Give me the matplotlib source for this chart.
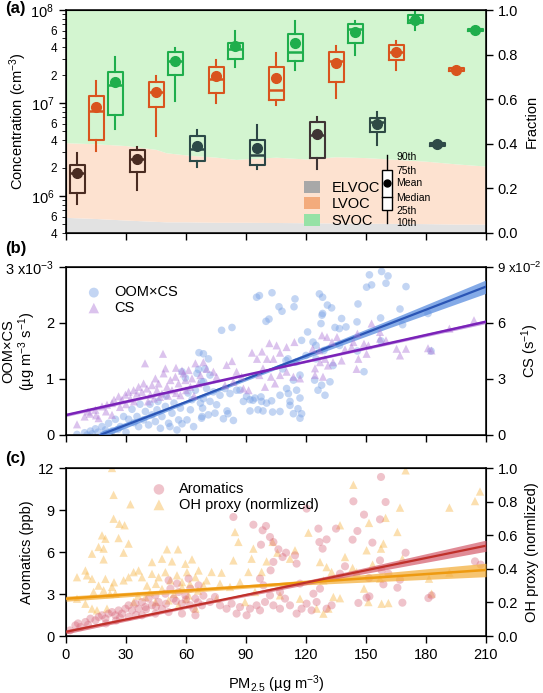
import numpy as np
import matplotlib
matplotlib.use("Agg")
import matplotlib.pyplot as plt
from matplotlib.patches import Patch, Rectangle
from matplotlib.ticker import FixedLocator, FuncFormatter

plt.rcParams['font.family'] = ['Liberation Sans', 'DejaVu Sans']
plt.rcParams['font.size'] = 10.5
plt.rcParams['mathtext.default'] = 'regular'

# ---------------- (a) box plots: concentration per PM2.5 bin ----------------
groups_pm = [15, 45, 75, 105, 135, 165, 195]

elvoc_p10 = [8.2e5, 1.15e6, 2.07e6, 1.95e6, 1.95e6, 3.52e6, 3.30e6]
elvoc_p25 = [1.08e6, 1.80e6, 2.39e6, 2.14e6, 2.54e6, 4.87e6, 3.45e6]
elvoc_med = [1.75e6, 2.52e6, 3.22e6, 2.74e6, 4.56e6, 6.30e6, 3.60e6]
elvoc_p75 = [2.18e6, 3.12e6, 4.39e6, 4.04e6, 6.30e6, 6.86e6, 3.75e6]
elvoc_p90 = [2.90e6, 3.38e6, 5.08e6, 5.80e6, 7.10e6, 8.07e6, 3.90e6]
elvoc_mean = [1.75e6, 2.50e6, 3.49e6, 3.30e6, 4.60e6, 5.92e6, 3.58e6]

lvoc_p10 = [3.05e6, 4.46e6, 1.01e7, 9.5e6, 1.14e7, 2.26e7, 2.15e7]
lvoc_p25 = [4.04e6, 9.1e6, 1.28e7, 1.07e7, 1.67e7, 2.88e7, 2.20e7]
lvoc_med = [8.3e6, 1.31e7, 1.79e7, 1.39e7, 2.84e7, 3.57e7, 2.28e7]
lvoc_p75 = [1.18e7, 1.70e7, 2.42e7, 2.45e7, 3.57e7, 4.19e7, 2.36e7]
lvoc_p90 = [1.74e7, 1.94e7, 2.88e7, 3.48e7, 4.09e7, 4.62e7, 2.42e7]
lvoc_mean = [9.1e6, 1.31e7, 1.94e7, 1.86e7, 2.68e7, 3.57e7, 2.28e7]

svoc_p10 = [5.2e6, 1.05e7, 2.42e7, 2.26e7, 3.26e7, 6.14e7, 5.80e7]
svoc_p25 = [7.4e6, 2.02e7, 2.96e7, 2.80e7, 4.44e7, 7.23e7, 5.95e7]
svoc_med = [1.57e7, 2.84e7, 3.78e7, 3.53e7, 6.25e7, 7.84e7, 6.14e7]
svoc_p75 = [2.14e7, 3.53e7, 4.44e7, 5.53e7, 7.06e7, 8.85e7, 6.30e7]
svoc_p90 = [3.15e7, 3.94e7, 6.00e7, 7.70e7, 7.70e7, 9.40e7, 6.50e7]
svoc_mean = [1.67e7, 2.84e7, 4.09e7, 4.44e7, 5.80e7, 7.84e7, 6.14e7]

# fraction of each class (stacked background)
frac_pm = [0, 15, 30, 45, 50, 60, 75, 85, 90, 105, 120, 135, 150, 165, 180, 195, 210]
elvoc_frac = [0.070, 0.065, 0.058, 0.052, 0.050, 0.050, 0.048, 0.048, 0.048, 0.047,
              0.046, 0.045, 0.044, 0.043, 0.042, 0.040, 0.040]
elvoc_lvoc_frac = [0.405, 0.400, 0.392, 0.375, 0.360, 0.350, 0.340, 0.330, 0.333, 0.340,
                   0.332, 0.342, 0.338, 0.330, 0.322, 0.310, 0.300]

# ---------------- (b) OOM x CS and CS vs PM2.5 ----------------
oomcs_pts = [
    (5.5, 0.01), (9.3, 0.04), (12.2, 0.07), (14.7, 0.11), (18, 0.15), (19.7, 0.09), (23, 0.07),
    (24.7, 0.28), (21.3, 0.21), (27.2, 0.15), (28.8, 0.33), (31.3, 0.28), (33, 0.46), (35.5, 0.33),
    (36.3, 0.15), (38.8, 0.27), (39.7, 0.42), (41.3, 0.18), (43, 0.36), (44.7, 0.24), (45.5, 0.45),
    (47.2, 0.12), (48, 0.33), (49.7, 0.51), (51.3, 0.21), (53, 0.39), (54, 0.57), (55.5, 0.09),
    (56.3, 0.27), (57.2, 0.48), (58, 1.13), (59.7, 1.02), (60.5, 0.27), (62.2, 0.45), (63, 0.63),
    (63.8, 0.15), (64.7, 0.8), (65.5, 1.1), (66.3, 1.17), (67.2, 0.57), (68, 0.33), (68.8, 0.95),
    (66.5, 1.47), (10.5, 0.0), (13, 0.02), (16, 0.05), (20, 0.03), (26, 0.1), (30, 0.05),
    (34, 0.22), (42, 0.55), (46, 0.6), (50, 0.7), (52, 0.15), (58, 0.2), (61, 0.75), (37, 0.55),
    (68.7, 1.45), (71.2, 1.36), (69.5, 1.18), (72, 1.07), (67.8, 0.95), (70.3, 0.83), (73.7, 0.77),
    (68.7, 0.65), (72, 0.6), (75.3, 0.54), (68.3, 0.48), (71.2, 0.36), (77, 0.71), (79.5, 0.83),
    (82, 0.74), (85.3, 0.8), (67.8, 0.3), (74.5, 0.39), (88.7, 0.6), (92, 0.63), (94.5, 0.66),
    (97.8, 0.6), (100.3, 0.57), (102.8, 0.61), (96, 0.45), (98.5, 0.43), (103.3, 0.41), (107, 0.42),
    (111.2, 0.74), (115.3, 0.8), (112, 0.6), (117, 0.66), (117, 0.3), (83.7, 0.26), (78.7, 0.29),
    (81, 0.38), (90.3, 0.69), (87, 0.8), (80.5, 0.43), (92, 0.43), (77.8, 1.87), (83, 1.92),
    (96.7, 2.49), (95.3, 2.46), (103, 2.54), (106.5, 2.29), (108, 2.21), (114.5, 2.43), (114, 2.29),
    (100, 2.03), (101.5, 2.07), (126.7, 2.52), (128.3, 2.46), (130.7, 2.32), (132.8, 2.27),
    (128.3, 2.17), (128, 2.14), (127.5, 1.99), (134.5, 1.92), (136.7, 1.9), (120.8, 1.84),
    (117.8, 1.69), (123.5, 1.66), (125, 1.6), (111, 1.36), (115, 1.3), (117, 1.07), (113.7, 0.98),
    (110.3, 0.83), (107, 0.71), (112, 0.53), (116, 0.47), (113.7, 0.38), (117.8, 0.38), (93.5, 0.62),
    (97.5, 0.68), (127.8, 0.89), (126, 0.8), (129.5, 0.71), (132, 0.95), (110, 1.33), (108.3, 1.18),
    (125, 1.36), (120, 1.42), (129, 1.51), (133.5, 1.24), (136.8, 1.6), (124.3, 0.98),
    (151.7, 2.86), (157.8, 2.92), (161, 2.84), (150.3, 2.64), (152.8, 2.68), (160, 2.71), (170, 2.65),
    (146, 2.34), (137.8, 2.08), (140, 1.93), (145.5, 2.02), (157.3, 2.09), (167, 2.25), (168.3, 1.97),
    (181, 2.17), (145.7, 1.5), (149, 1.13), (182.5, 1.5), (157.5, 1.68),
]  # OOM x CS in 1e-3 ug m-3 s-1

cs_pts = [
    (5.5, 0.57), (9.3, 0.99), (11, 1.26), (14.7, 1.35), (18, 1.53), (20.5, 1.62), (23, 1.71),
    (24, 1.89), (26.3, 2.07), (28, 1.89), (29.7, 2.16), (31.3, 2.31), (32.2, 1.95), (33.8, 2.4),
    (35.5, 2.22), (36.3, 2.58), (38, 2.31), (38.8, 2.76), (40.5, 2.49), (42.2, 2.16), (43, 2.67),
    (44.7, 3.03), (45.5, 2.4), (46.3, 2.76), (48, 2.22), (48.8, 3.3), (49.7, 3.57), (50.5, 2.58),
    (52.2, 2.94), (53, 2.4), (54.7, 3.12), (56.3, 2.76), (57.2, 2.13), (58.8, 3.3), (59.7, 2.94),
    (61.3, 3.48), (62.2, 2.58), (63, 3.03), (64.7, 3.84), (66.3, 2.76), (67.2, 3.21), (23, 1.08),
    (16.3, 0.9), (48.5, 4.35), (39.5, 3.84), (55, 3.6), (58, 3.45), (12, 1.14), (15, 1.05),
    (20, 1.26), (27, 1.5), (30, 1.65), (34, 1.8), (41, 1.8), (44, 1.95), (47, 2.04), (51, 2.1),
    (55, 2.25), (60, 2.4), (64, 2.1),
    (68.7, 3.9), (70.3, 3.54), (73.7, 3.39), (75.3, 3.12), (80.3, 3.75), (83, 3.96), (85.3, 3.39),
    (87.8, 3.12), (83.7, 2.85), (79.5, 2.67), (88.7, 2.49), (91.3, 2.4), (93, 4.41), (95.5, 4.08),
    (98, 4.47), (100.5, 4.08), (101.7, 4.92), (105.3, 4.8), (107, 4.41), (110.3, 4.71), (114.2, 4.98),
    (103.7, 4.08), (98.5, 3.57), (96.7, 3.21), (102.5, 3.12), (107, 3.21), (110.3, 3.39),
    (113.7, 3.12), (117, 3.03), (104.5, 2.76), (99.5, 2.58), (124.5, 3.57), (127, 3.9), (129.5, 4.08),
    (128, 5.34), (130.5, 5.25), (133, 4.98), (135.5, 5.25), (123.3, 4.62), (126.7, 4.53),
    (131, 3.72), (133.5, 3.9), (124.5, 3.21), (128.5, 3.12),
    (137.8, 3.99), (139.5, 4.59), (143.7, 4.98), (142.8, 4.71), (145.7, 5.43), (146.2, 4.08),
    (145.3, 3.54), (149, 4.89), (151.2, 4.8), (150.3, 4.35), (152.8, 5.97), (157, 5.52), (157, 5.16),
    (160, 5.07), (165.3, 4.62), (167, 4.26), (170, 4.62), (181, 4.65), (182.7, 4.53), (191.7, 5.7),
    (204, 6.15),
]  # CS in 1e-2 s-1

oomcs_fit_pm = [17, 60, 110, 160, 210]
oomcs_fit = [0.0, 0.59, 1.277, 1.963, 2.65]
oomcs_band = [0.06, 0.03, 0.035, 0.07, 0.12]
cs_fit_pm = [0, 105, 210]
cs_fit = [1.07, 3.57, 6.07]
cs_band = [0.08, 0.04, 0.10]

# ---------------- (c) aromatics and OH proxy vs PM2.5 ----------------
arom_pts = [
    (4.7, 0.76), (7.2, 0.64), (9.7, 1.0), (12.2, 1.24), (14.7, 1.12), (16.3, 1.36), (18, 1.48),
    (19.7, 1.24), (21.3, 1.6), (23, 1.71), (24.7, 1.48), (26.3, 1.83), (28, 1.6), (29.7, 1.95),
    (31.3, 2.19), (33, 1.83), (34.7, 2.31), (36.3, 1.95), (38, 2.43), (39.7, 2.07), (41.3, 2.67),
    (43, 2.19), (44.7, 2.9), (46.3, 2.43), (48, 1.95), (49.7, 3.02), (51.3, 3.98), (52.2, 3.38),
    (53.8, 2.67), (55.5, 3.74), (56.3, 3.14), (58, 2.31), (59.7, 2.9), (61.3, 4.1), (62.2, 3.38),
    (63.8, 1.95), (64.7, 2.67), (66.3, 3.62), (68, 2.19), (31.3, 1.36), (38, 1.48), (44.7, 1.6),
    (51.3, 1.71), (58, 1.6), (64.7, 1.48), (2, 0.4), (6, 0.9), (11, 0.8), (20, 0.9), (25, 1.1),
    (27, 1.3), (35, 1.5), (40, 1.9), (45, 2.1), (50, 2.3), (55, 2.5), (60, 2.6), (62, 2.2), (66, 2.4),
    (83.7, 8.5), (93.7, 7.95), (98.3, 7.55), (100, 7.86), (102, 7.07), (97.5, 6.52), (103.7, 6.71),
    (106.2, 6.19), (110, 5.95), (108.3, 5.64), (114.5, 5.76), (115.3, 5.17), (103.7, 5.29),
    (102.3, 4.69), (97, 4.1), (98.7, 3.62), (107, 3.14), (120.3, 9.1), (126.2, 7.67), (130.3, 6.9),
    (126.7, 6.71), (128.3, 6.24), (135, 7.67), (117, 3.74), (123.7, 3.02), (127, 3.38), (68.7, 2.88),
    (72, 2.43), (74.5, 2.79), (77, 2.19), (80.3, 1.95), (82.8, 2.31), (85.3, 1.6), (87, 2.07),
    (90.3, 1.48), (92, 1.95), (95.3, 2.19), (97, 1.83), (99.5, 2.43), (102, 2.9), (103.7, 2.19),
    (107, 1.95), (109.5, 2.67), (112, 2.19), (115.3, 1.6), (117.8, 1.95), (120.3, 2.31),
    (122.8, 1.83), (125.3, 2.43), (130.3, 1.95), (132.8, 2.19),
    (157.5, 11.36), (143.7, 9.62), (159.8, 9.57), (149, 8.67), (157, 8.33), (145.7, 7.5),
    (143.3, 6.88), (153.2, 6.67), (169.8, 5.95), (139.5, 4.98), (157, 5.4), (157.8, 4.69),
    (161.2, 4.45), (151.5, 4.14), (167, 4.02), (158.7, 3.69), (165.7, 3.45), (150.3, 2.74),
    (151.7, 2.83), (146.2, 2.36), (168.2, 2.38), (181.2, 2.71), (182.8, 2.9), (204.5, 5.33),
    (207.3, 5.1), (137, 4.45),
]  # ppb

oh_pts = [
    (23, 1.0), (23.8, 0.84), (32.2, 0.784), (23.8, 0.698), (26.7, 0.668), (29.3, 0.659), (18, 0.599),
    (19.7, 0.579), (26.3, 0.583), (31.3, 0.55), (16.3, 0.53), (18.8, 0.52), (13, 0.49), (18.8, 0.456),
    (28.8, 0.496), (50.5, 0.516), (56, 0.516), (48, 0.46), (53, 0.444), (43, 0.44), (63, 0.456),
    (59.7, 0.43), (5.5, 0.35), (9.7, 0.39), (10.5, 0.361), (13, 0.34), (19.7, 0.34), (16.3, 0.3),
    (13.8, 0.262), (18.8, 0.272), (23, 0.292), (24.7, 0.252), (28.8, 0.331), (31.3, 0.35),
    (33.8, 0.38), (36.3, 0.39), (38, 0.35), (40.5, 0.3), (43, 0.37), (46.3, 0.35), (49.7, 0.38),
    (52.2, 0.331), (55.5, 0.361), (58, 0.321), (60.5, 0.38), (64.7, 0.35), (66.3, 0.39),
    (5.5, 0.222), (9.7, 0.192), (13, 0.163), (15.5, 0.153), (20.5, 0.163), (33.8, 0.202),
    (39.7, 0.232), (44.7, 0.202), (51.3, 0.212), (56.3, 0.183), (61.3, 0.242), (64.7, 0.163),
    (42, 0.26), (48, 0.28), (54, 0.25), (58, 0.29), (62, 0.31), (66, 0.27), (36, 0.24), (45, 0.31),
    (60, 0.22), (24, 0.32), (22, 0.25),
    (84.5, 0.619), (86.2, 0.56), (93.7, 0.52), (103.3, 0.56), (105.7, 0.496), (92.8, 0.46),
    (83.7, 0.45), (77.8, 0.377), (72.8, 0.381), (91.2, 0.381), (97.8, 0.381), (100.3, 0.444),
    (114.5, 0.51), (112, 0.46), (121.2, 0.615), (127, 0.44), (130.3, 0.41), (132.8, 0.381),
    (128.7, 0.331), (133.7, 0.232), (131.2, 0.163), (125.3, 0.163), (128.7, 0.133), (117, 0.222),
    (68.7, 0.302), (70.3, 0.331), (77, 0.312), (82, 0.292), (87, 0.321), (94.5, 0.262), (107, 0.242),
    (89.5, 0.202), (75.3, 0.222), (137, 0.659),
    (169.8, 0.986), (143.7, 0.9), (207, 0.86), (204.5, 0.803), (167, 0.764), (191.7, 0.764),
    (151.5, 0.673), (159.8, 0.703), (165.7, 0.619), (158.7, 0.55), (150.3, 0.51), (157.5, 0.52),
    (139.5, 0.47), (168.2, 0.46), (143.3, 0.405), (153.3, 0.425), (181.5, 0.341), (191.7, 0.377),
    (149, 0.282), (151.2, 0.202), (157.8, 0.192), (161.2, 0.196), (182.8, 0.252), (137, 0.225),
    (145.3, 0.38), (157, 0.341),
]  # normalized

arom_fit_pm = [0, 70, 140, 210]
arom_fit = [0.3, 2.35, 4.4, 6.45]
arom_band = [0.15, 0.08, 0.18, 0.4]
oh_fit_pm = [0, 105, 210]
oh_fit = [0.222, 0.307, 0.393]
oh_band = [0.015, 0.01, 0.04]

x_ticks = [0, 30, 60, 90, 120, 150, 180, 210]

# colours
elvoc_cols = ["#4a2c22", "#4a2c22", "#2c4a48", "#2c4545", "#3f3535", "#2f4a45", "#2f4a48"]
lvoc_col = "#d9541e"
svoc_col = "#1fae4c"


def style_axis(ax, right=None):
    ax.tick_params(direction='out', length=5, width=1, labelsize=10.5)
    ax.tick_params(axis='x', top=False)
    for s in ax.spines.values():
        s.set_linewidth(1.1)
    if right is not None:
        right.tick_params(direction='out', length=5, width=1, labelsize=10.5)


fig = plt.figure(figsize=(5.43, 6.93), dpi=100)
L, W = 66 / 543, 420 / 543
ax_a = fig.add_axes([L, 1 - 233 / 693, W, 223 / 693])
ax_b = fig.add_axes([L, 1 - 435 / 693, W, 168 / 693])
ax_c = fig.add_axes([L, 1 - 636 / 693, W, 168 / 693])

# ---------- panel (a) ----------
ax_a2 = ax_a.twinx()
ax_a2.fill_between(frac_pm, 0, elvoc_frac, color="#e2e2e2", lw=0)
ax_a2.fill_between(frac_pm, elvoc_frac, elvoc_lvoc_frac, color="#fde2d0", lw=0)
ax_a2.fill_between(frac_pm, elvoc_lvoc_frac, 1, color="#d3f5d0", lw=0)
ax_a2.set_ylim(0, 1)
ax_a2.set_yticks([0, 0.2, 0.4, 0.6, 0.8, 1.0])
ax_a2.yaxis.set_major_formatter(FuncFormatter(lambda v, p: f"{v:.1f}"))
ax_a2.set_ylabel("Fraction")
ax_a2.yaxis.set_label_coords(1.093, 0.5)
ax_a.set_zorder(ax_a2.get_zorder() + 1)
ax_a.patch.set_visible(False)


def draw_boxes(ax, offset, p10, p25, med, p75, p90, mean, colors):
    for i, pm in enumerate(groups_pm):
        st = [dict(med=med[i], q1=p25[i], q3=p75[i], whislo=p10[i], whishi=p90[i],
                   mean=mean[i], fliers=[])]
        c = colors[i] if isinstance(colors, list) else colors
        ax.bxp(st, positions=[pm + offset], widths=7.5, showmeans=True, showcaps=False,
               showfliers=False, manage_ticks=False,
               boxprops=dict(color=c, lw=1.5),
               whiskerprops=dict(color=c, lw=1.5),
               medianprops=dict(color=c, lw=1.8),
               meanprops=dict(marker='o', markerfacecolor=c, markeredgecolor=c, markersize=7))


draw_boxes(ax_a, -9.5, elvoc_p10, elvoc_p25, elvoc_med, elvoc_p75, elvoc_p90, elvoc_mean, elvoc_cols)
draw_boxes(ax_a, 0, lvoc_p10, lvoc_p25, lvoc_med, lvoc_p75, lvoc_p90, lvoc_mean, lvoc_col)
draw_boxes(ax_a, 9.5, svoc_p10, svoc_p25, svoc_med, svoc_p75, svoc_p90, svoc_mean, svoc_col)

ax_a.set_yscale('log')
ax_a.set_ylim(4e5, 1e8)
ax_a.set_xlim(0, 210)
ax_a.set_xticks(x_ticks)
ax_a.set_xticklabels([])
ax_a.yaxis.set_major_locator(FixedLocator([1e6, 1e7, 1e8]))
ax_a.yaxis.set_major_formatter(FuncFormatter(lambda v, p: f"10$^{{{int(round(np.log10(v)))}}}$"))
minors = [m * 10 ** e for e in (5, 6, 7) for m in range(2, 10) if 4e5 <= m * 10 ** e < 1e8]
ax_a.yaxis.set_minor_locator(FixedLocator(minors))


def minor_fmt(v, p):
    m = int(round(v / 10 ** np.floor(np.log10(v))))
    return str(m) if m in (2, 4, 6) else ""


ax_a.yaxis.set_minor_formatter(FuncFormatter(minor_fmt))
ax_a.tick_params(axis='y', which='minor', length=3, labelsize=8.5)
ax_a.set_ylabel("Concentration (cm$^{-3}$)")
ax_a.yaxis.set_label_coords(-0.088, 0.5)
style_axis(ax_a, ax_a2)

ax_a.legend(handles=[Patch(facecolor="#a8a8a8", edgecolor='none', label="ELVOC"),
                     Patch(facecolor="#f3ab7c", edgecolor='none', label="LVOC"),
                     Patch(facecolor="#96e2a6", edgecolor='none', label="SVOC")],
            loc='lower left', bbox_to_anchor=(0.535, -0.035), frameon=False,
            handlelength=1.1, handleheight=0.9, labelspacing=0.15, handletextpad=0.8,
            fontsize=10.5)

# box key
kx = 0.764
ax_a.plot([kx, kx], [0.045, 0.35], color='k', lw=1, transform=ax_a.transAxes, zorder=5)
ax_a.add_patch(Rectangle((kx - 0.012, 0.103), 0.024, 0.18, facecolor='white', edgecolor='k',
                         lw=1, transform=ax_a.transAxes, zorder=6))
ax_a.plot([kx - 0.012, kx + 0.012], [0.161, 0.161], color='k', lw=1, transform=ax_a.transAxes, zorder=7)
ax_a.plot([kx], [0.224], 'ko', ms=5, transform=ax_a.transAxes, zorder=7)
for lab, yy in [("90th", 0.341), ("75th", 0.278), ("Mean", 0.224), ("Median", 0.157),
                ("25th", 0.099), ("10th", 0.045)]:
    ax_a.text(kx + 0.022, yy, lab, fontsize=7.5, va='center', ha='left', transform=ax_a.transAxes)

# ---------- panel (b) ----------
ax_b2 = ax_b.twinx()
bx, by = zip(*oomcs_pts)
cx, cy = zip(*cs_pts)
h1 = ax_b.scatter(bx, np.array(by) * 1e-3, s=30, color="#7aa3e6", alpha=0.45, edgecolors='none',
                  label="OOM×CS")
h2 = ax_b2.scatter(cx, np.array(cy) * 1e-2, s=34, marker='^', color="#b07ad8", alpha=0.45,
                   edgecolors='none', label="CS")
fb = np.array(oomcs_fit) * 1e-3
bb = np.array(oomcs_band) * 1e-3
ax_b.fill_between(oomcs_fit_pm, fb - bb, fb + bb, color="#5b8ee0", alpha=0.75, lw=0, zorder=3)
ax_b.plot(oomcs_fit_pm, fb, color="#2a55b5", lw=1.6, zorder=4)
fc = np.array(cs_fit) * 1e-2
bc = np.array(cs_band) * 1e-2
ax_b2.fill_between(cs_fit_pm, fc - bc, fc + bc, color="#a060d0", alpha=0.6, lw=0)
ax_b2.plot(cs_fit_pm, fc, color="#7a22b8", lw=1.8)

ax_b.set_xlim(0, 210)
ax_b.set_xticks(x_ticks)
ax_b.set_xticklabels([])
ax_b.set_ylim(0, 3e-3)
ax_b.set_yticks([0, 1e-3, 2e-3, 3e-3])
ax_b.yaxis.set_major_formatter(FuncFormatter(
    lambda v, p: "3 x10$^{-3}$" if abs(v - 3e-3) < 1e-9 else f"{v * 1e3:.0f}"))
ax_b2.set_ylim(0, 9e-2)
ax_b2.set_yticks([0, 3e-2, 6e-2, 9e-2])
ax_b2.yaxis.set_major_formatter(FuncFormatter(
    lambda v, p: "9 x10$^{-2}$" if abs(v - 9e-2) < 1e-9 else f"{v * 1e2:.0f}"))
ax_b.set_ylabel("OOM×CS\n(µg m$^{-3}$ s$^{-1}$)", linespacing=1.1)
ax_b.yaxis.set_label_coords(-0.066, 0.5)
ax_b2.set_ylabel("CS (s$^{-1}$)")
ax_b2.yaxis.set_label_coords(1.08, 0.5)
style_axis(ax_b, ax_b2)
ax_b2.tick_params(axis='y', pad=3)
ax_b.legend(handles=[h1, h2], loc='upper left', bbox_to_anchor=(0.035, 0.925), frameon=False,
            handlelength=1.0, handletextpad=0.9, labelspacing=0.1, borderaxespad=0,
            scatterpoints=1, markerscale=1.3, fontsize=10.5)

# ---------- panel (c) ----------
ax_c2 = ax_c.twinx()
ax_c.set_zorder(ax_c2.get_zorder() + 1)
ax_c.patch.set_visible(False)
ox, oy = zip(*oh_pts)
rx, ry = zip(*arom_pts)
h4 = ax_c2.scatter(ox, oy, s=36, marker='^', color="#f7b84e", alpha=0.45, edgecolors='none',
                   label="OH proxy (normlized)")
h3 = ax_c.scatter(rx, ry, s=34, color="#d96b7e", alpha=0.4, edgecolors='none', label="Aromatics")
fo = np.array(oh_fit)
bo = np.array(oh_band)
ax_c.fill_between(oh_fit_pm, (fo - bo) * 12, (fo + bo) * 12, color="#f4b040", alpha=0.75, lw=0, zorder=3)
ax_c.plot(oh_fit_pm, fo * 12, color="#ee9a10", lw=1.8, zorder=4)
fa = np.array(arom_fit)
ba = np.array(arom_band)
ax_c.fill_between(arom_fit_pm, fa - ba, fa + ba, color="#d45a6a", alpha=0.7, lw=0, zorder=3)
ax_c.plot(arom_fit_pm, fa, color="#c0302a", lw=1.6, zorder=4)

ax_c.set_xlim(0, 210)
ax_c.set_xticks(x_ticks)
ax_c.set_ylim(0, 12)
ax_c.set_yticks([0, 3, 6, 9, 12])
ax_c2.set_ylim(0, 1)
ax_c2.set_yticks([0, 0.2, 0.4, 0.6, 0.8, 1.0])
ax_c2.yaxis.set_major_formatter(FuncFormatter(lambda v, p: f"{v:.1f}"))
ax_c.set_ylabel("Aromatics (ppb)")
ax_c.yaxis.set_label_coords(-0.076, 0.5)
ax_c2.set_ylabel("OH proxy (normlized)")
ax_c2.yaxis.set_label_coords(1.092, 0.5)
ax_c.set_xlabel("PM$_{2.5}$ (µg m$^{-3}$)", labelpad=8)
style_axis(ax_c, ax_c2)
ax_c.legend(handles=[h3, h4], loc='upper left', bbox_to_anchor=(0.19, 0.95), frameon=False,
            handlelength=1.0, handletextpad=0.9, labelspacing=0.1, borderaxespad=0,
            scatterpoints=1, markerscale=1.3, fontsize=10.5)

for lab, yy in [("(a)", 8), ("(b)", 249), ("(c)", 459)]:
    fig.text(5 / 543, 1 - yy / 693, lab, fontsize=12, fontweight='bold', va='center', ha='left')

# shrink the long exponent tick label on the CS axis so it stays inside the figure
fig.canvas.draw()
for t in ax_b2.get_yticklabels():
    if t.get_text().startswith("9 "):
        t.set_fontsize(9.5)

fig.savefig("out.png", dpi=100)
